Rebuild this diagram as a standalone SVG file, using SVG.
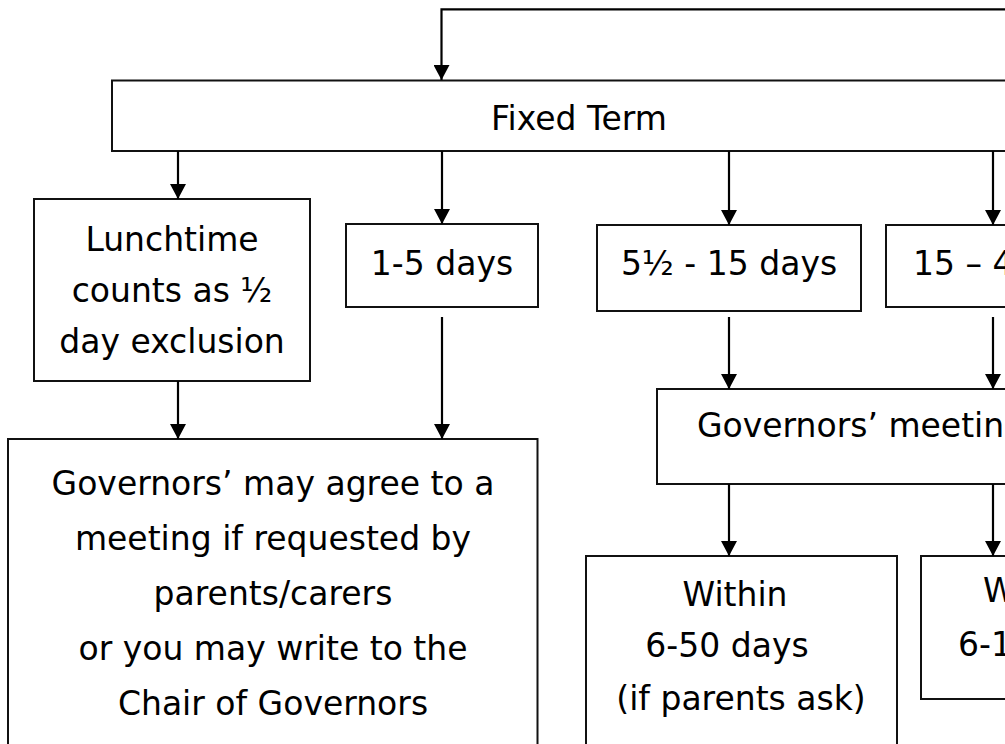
<svg xmlns="http://www.w3.org/2000/svg" width="1005" height="744" viewBox="0 0 1005 744">
<style>
.box{fill:#fff;stroke:#111;stroke-width:2}
.t{font-family:"DejaVu Sans","Liberation Sans",sans-serif;font-size:33px;fill:#000}
.c{text-anchor:middle}
.conn{fill:none;stroke:#000;stroke-width:2.2}
</style>
<defs>
<marker id="ah" markerUnits="userSpaceOnUse" markerWidth="16" markerHeight="16" viewBox="0 0 16 16" refX="15" refY="8" orient="auto">
<path d="M0,0 L15,8 L0,16 Z" fill="#000"/>
</marker>
</defs>
<rect width="1005" height="744" fill="#fff"/>
<g id="fixed-term">
<rect class="box" x="112" y="80.5" width="900" height="70.5"/>
<text class="t c" x="579" y="130">Fixed Term</text>
</g>
<g id="lunchtime">
<rect class="box" x="34" y="199" width="276" height="182"/>
<text class="t c" x="172" y="251">Lunchtime</text>
<text class="t c" x="172" y="302">counts as ½</text>
<text class="t c" x="172" y="353">day exclusion</text>
</g>
<g id="days-1-5">
<rect class="box" x="346" y="224" width="192" height="83"/>
<text class="t c" x="442" y="275">1-5 days</text>
</g>
<g id="days-5h-15">
<rect class="box" x="597" y="225" width="264" height="86"/>
<text class="t c" x="729" y="275">5½ - 15 days</text>
</g>
<g id="days-15-4">
<rect class="box" x="886" y="225" width="130" height="82"/>
<text class="t" x="913" y="275">15 – 4</text>
</g>
<g id="governors-meeting">
<rect class="box" x="657" y="389" width="360" height="95"/>
<text class="t" x="697" y="437">Governors’ meetin</text>
</g>
<g id="governors-may-agree">
<rect class="box" x="8" y="439" width="529.5" height="320"/>
<text class="t c" x="273" y="495">Governors’ may agree to a</text>
<text class="t c" x="273" y="550">meeting if requested by</text>
<text class="t c" x="273" y="605">parents/carers</text>
<text class="t c" x="273" y="660">or you may write to the</text>
<text class="t c" x="273" y="715">Chair of Governors</text>
</g>
<g id="within-6-50">
<rect class="box" x="586" y="556" width="311" height="200"/>
<text class="t c" x="735" y="606">Within</text>
<text class="t c" x="727" y="657">6-50 days</text>
<text class="t c" x="741" y="710">(if parents ask)</text>
</g>
<g id="within-6-1">
<rect class="box" x="921" y="556" width="100" height="143"/>
<text class="t" x="983" y="602">W</text>
<text class="t" x="958" y="656">6-1</text>
</g>
<g id="connectors">
<path class="conn" d="M1010,9.3 H441.5 V80" marker-end="url(#ah)"/>
<path class="conn" d="M178,151 V199" marker-end="url(#ah)"/>
<path class="conn" d="M442,151 V224" marker-end="url(#ah)"/>
<path class="conn" d="M729,151 V225" marker-end="url(#ah)"/>
<path class="conn" d="M993,151 V225" marker-end="url(#ah)"/>
<path class="conn" d="M178,381 V439" marker-end="url(#ah)"/>
<path class="conn" d="M442,317 V439" marker-end="url(#ah)"/>
<path class="conn" d="M729,317 V389" marker-end="url(#ah)"/>
<path class="conn" d="M993,317 V389" marker-end="url(#ah)"/>
<path class="conn" d="M729,484 V556" marker-end="url(#ah)"/>
<path class="conn" d="M993,484 V556" marker-end="url(#ah)"/>
</g>
</svg>
